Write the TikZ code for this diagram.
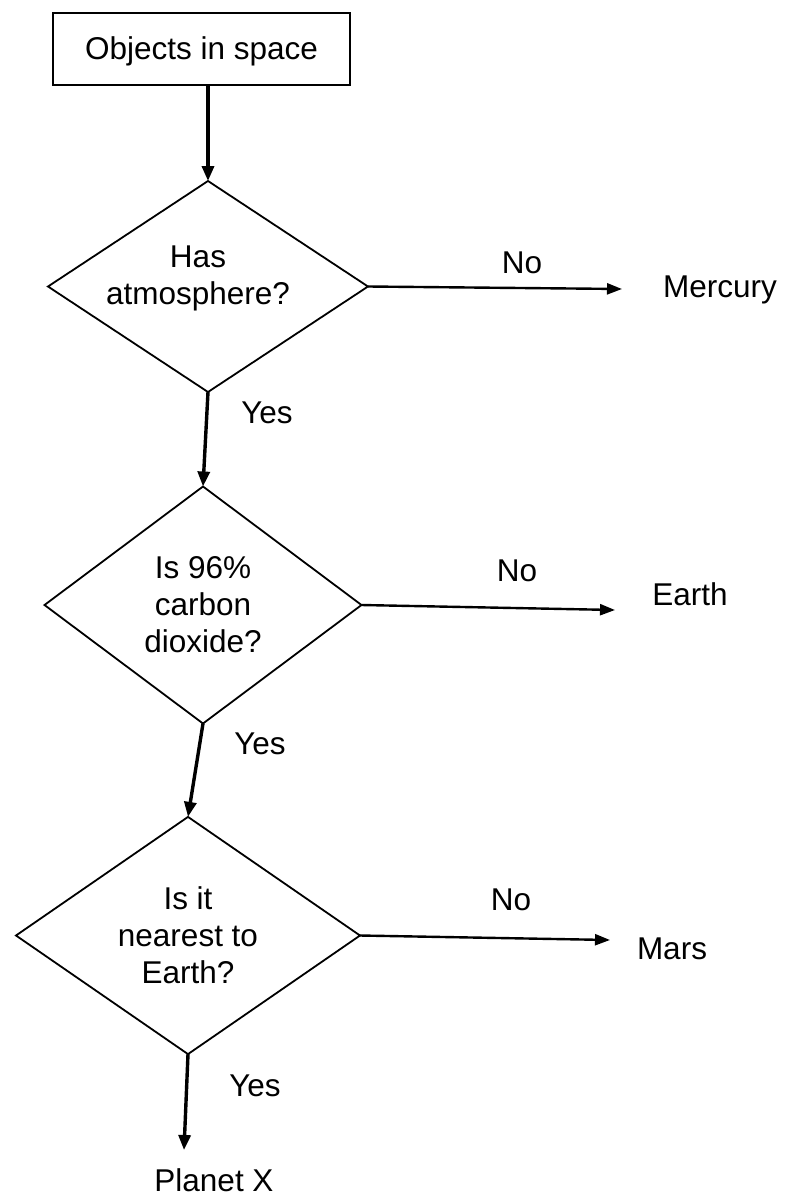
\documentclass[tikz,border=0pt]{standalone}
\usepackage{fontspec}
\setmainfont{Liberation Sans}
\usetikzlibrary{shapes.geometric,arrows.meta}
\begin{document}
\begin{tikzpicture}[x=1pt,y=1pt,
  every node/.style={font=\fontsize{31.5}{37}\selectfont, inner sep=0pt, outer sep=0pt},
  box/.style={draw, line width=2pt, minimum width=297pt, minimum height=72pt, text height=22pt, text depth=0pt},
  dec/.style={draw, diamond, line width=1.8pt, align=center},
  dtext/.style={align=center},
  arr/.style={line width=3.4pt, -{Triangle[length=15pt,width=12pt]}},
  harr/.style={line width=2.4pt, -{Triangle[length=15pt,width=11pt]}},
  lbl/.style={text height=22pt, text depth=0pt}]
\useasboundingbox (0,0) rectangle (784,-1196);

\node[box] (start) at (201.5,-49) {Objects in space};

\node[dec, minimum width=320pt, minimum height=211pt] (d1) at (208,-286.5) {};
\node[dtext] (d1t) at (198,-278) {Has\\atmosphere?};
\node[dec, minimum width=317pt, minimum height=237pt] (d2) at (203,-605) {Is 96\%\\carbon\\dioxide?};
\node[dec, minimum width=344pt, minimum height=235pt] (d3) at (188,-935.5) {Is it\\nearest to\\Earth?};

\node[lbl] (mercury) at (720,-286) {Mercury};
\node[lbl] (earth) at (690,-594) {Earth};
\node[lbl] (mars) at (672,-948) {Mars};
\node[lbl] (planetx) at (214,-1180) {Planet X};

\node[lbl] (no1) at (522,-262) {No};
\node[lbl] (yes1) at (267,-412) {Yes};
\node[lbl] (no2) at (517,-570) {No};
\node[lbl] (yes2) at (260,-743) {Yes};
\node[lbl] (no3) at (511,-899) {No};
\node[lbl] (yes3) at (255,-1085) {Yes};

\coordinate (t1) at (622,-289);
\coordinate (t2) at (615,-610);
\coordinate (t3) at (610,-940);
\coordinate (t4) at (184,-1150);

\draw[arr] (d1.north |- start.south) -- (d1.north);
\draw[arr] (d1.south) -- (d2.north);
\draw[arr] (d2.south) -- (d3.north);
\draw[arr] (d3.south) -- (t4);

\draw[harr] (d1.east) -- (t1);
\draw[harr] (d2.east) -- (t2);
\draw[harr] (d3.east) -- (t3);
\end{tikzpicture}
\end{document}
